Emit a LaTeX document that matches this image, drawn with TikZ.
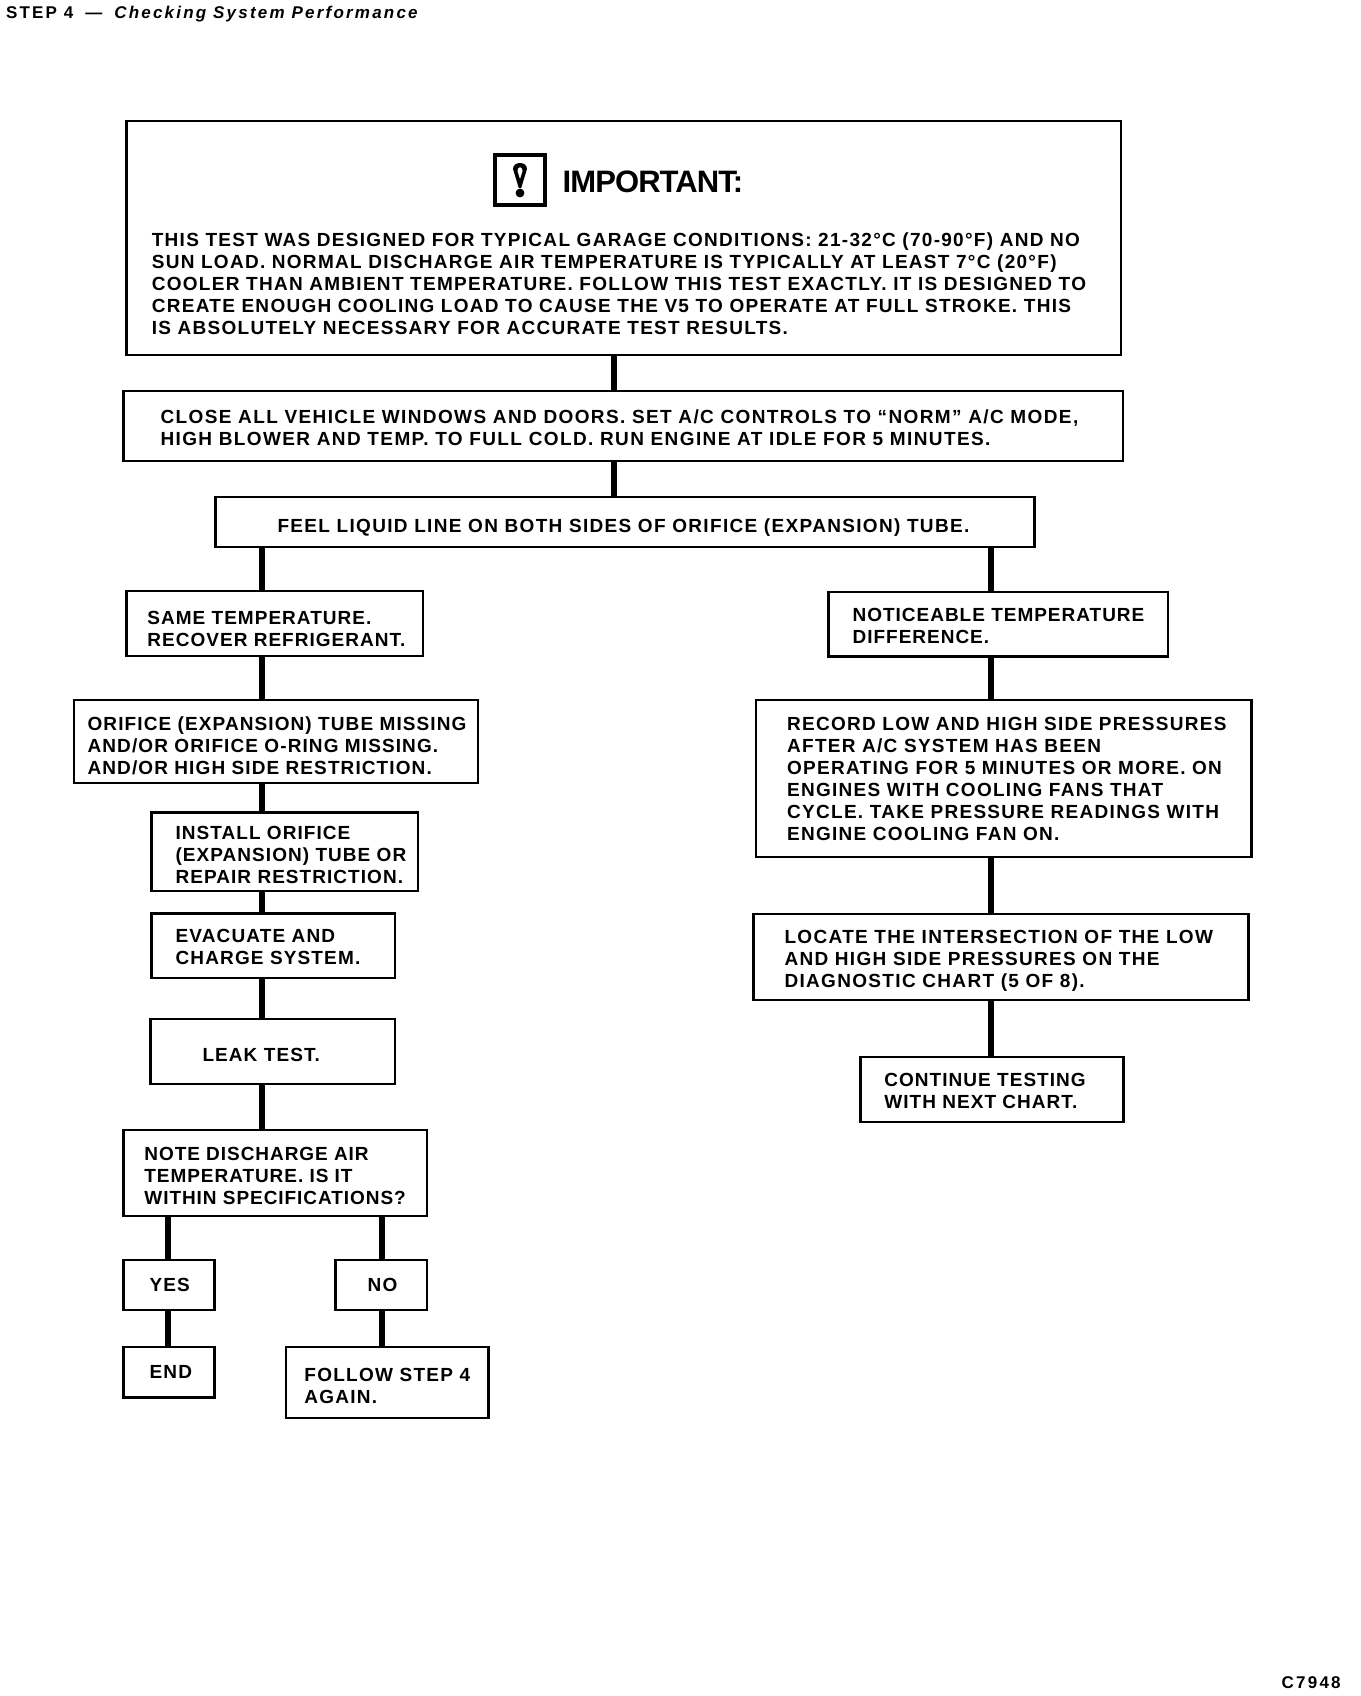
\documentclass[tikz,border=0pt]{standalone}
\usepackage{fontspec}
\setmainfont{Liberation Sans}
\newfontfamily\bodyfont[LetterSpace=6.5]{Liberation Sans Bold}
\newfontfamily\headfont[LetterSpace=-3]{Liberation Sans Bold}
\newfontfamily\stepfont[LetterSpace=13]{Liberation Sans Bold}
\newfontfamily\stepital[LetterSpace=13]{Liberation Sans Bold Italic}
\newcommand{\flowbox}[9]{%
  \pgfmathsetmacro\fbw{#5-#3}%
  \pgfmathsetmacro\fbh{#6-#4}%
  \pgfmathsetmacro\fbx{(#3+#5)/2}%
  \pgfmathsetmacro\fby{(#4+#6)/2}%
  \pgfmathsetmacro\fbtx{#7-\fbx}%
  \pgfmathsetmacro\fbty{\fby-#8}%
  \node[flow, minimum width=\fbw pt, minimum height=\fbh pt] (#2) at (\fbx,\fby)
    {\makebox[0pt][l]{\hspace*{\fbtx pt}\raisebox{\fbty pt}[0pt][0pt]{\addfontfeature{LetterSpace=#1}\begin{tabular}[t]{@{}l@{}}#9\end{tabular}}}};%
}
\tikzset{
  flow/.style={draw=black, line width=2.6pt, fill=white, inner sep=0pt, outer sep=0pt, rectangle,
    font=\fontsize{19}{22}\selectfont\bodyfont},
  conn/.style={draw=black, line width=6pt},
  loose/.style={inner sep=0pt, outer sep=0pt, text=black, anchor=base west},
  stepstyle/.style={loose, font=\fontsize{17}{20}\selectfont\stepfont}
}
\begin{document}
\begin{tikzpicture}[x=1pt,y=-1pt]
\useasboundingbox (0,0) rectangle (1360,1696);
\fill[white] (0,0) rectangle (1360,1696);
% vertical guides for connectors
\coordinate (xc) at (614.4,0);
\coordinate (xl) at (261.5,0);
\coordinate (xr) at (991,0);
\coordinate (xy) at (168.3,0);
\coordinate (xn) at (381.6,0);

\node[stepstyle] (step) at (6,19) {STEP 4\hspace{5pt} —\hspace{5pt} {\stepital Checking System Performance}};
\node[stepstyle] (code) at (1281.7,1688.3) {C7948};

\flowbox{6.8}{imp}{126.7}{121}{1121}{355}{151.8}{246.4}{THIS TEST WAS DESIGNED FOR TYPICAL GARAGE CONDITIONS: 21-32°C (70-90°F) AND NO\\SUN LOAD. NORMAL DISCHARGE AIR TEMPERATURE IS TYPICALLY AT LEAST 7°C (20°F)\\COOLER THAN AMBIENT TEMPERATURE. FOLLOW THIS TEST EXACTLY. IT IS DESIGNED TO\\CREATE ENOUGH COOLING LOAD TO CAUSE THE V5 TO OPERATE AT FULL STROKE. THIS\\IS ABSOLUTELY NECESSARY FOR ACCURATE TEST RESULTS.}
\node[loose, font=\fontsize{31}{31}\selectfont\headfont] (imptitle) at (562.7,192.3) {IMPORTANT:};
\node[draw=black, line width=4pt, minimum width=50pt, minimum height=50pt, inner sep=0pt, outer sep=0pt] (icon) at (520,180) {};
\begin{scope}[shift={(icon.center)}]
\fill[black] (-7,-11) .. controls (-7,-19) and (7,-19) .. (7,-11) -- (1.2,8) -- (-1.2,8) -- cycle;
\fill[white] (-2.5,-9) .. controls (-2.5,-14) and (2.5,-14) .. (2.5,-9) -- (0,-1) -- cycle;
\fill[black] (0,13) circle (4.4pt);
\end{scope}

\flowbox{7.3}{close}{123.7}{391}{1123}{461}{160.5}{423}{CLOSE ALL VEHICLE WINDOWS AND DOORS. SET A/C CONTROLS TO “NORM” A/C MODE,\\HIGH BLOWER AND TEMP. TO FULL COLD. RUN ENGINE AT IDLE FOR 5 MINUTES.}
\flowbox{7}{feel}{215.4}{497}{1034.3}{547}{277.5}{532}{FEEL LIQUID LINE ON BOTH SIDES OF ORIFICE (EXPANSION) TUBE.}
\flowbox{5.4}{same}{126.2}{591}{422.9}{656}{147.4}{624.3}{SAME TEMPERATURE.\\RECOVER REFRIGERANT.}
\flowbox{5.8}{orifice}{73.8}{700}{477.8}{783}{87.6}{730.3}{ORIFICE (EXPANSION) TUBE MISSING\\AND/OR ORIFICE O-RING MISSING.\\AND/OR HIGH SIDE RESTRICTION.}
\flowbox{5.5}{install}{151.6}{812.5}{417.9}{891}{175.6}{839.4}{INSTALL ORIFICE\\(EXPANSION) TUBE OR\\REPAIR RESTRICTION.}
\flowbox{6}{evac}{151.6}{913.5}{395}{978}{175.6}{942}{EVACUATE AND\\CHARGE SYSTEM.}
\flowbox{5.7}{leak}{150.6}{1019}{395}{1084}{202.5}{1061}{LEAK TEST.}
\flowbox{5}{note}{123.2}{1130}{426.9}{1216}{144.4}{1160.4}{NOTE DISCHARGE AIR\\TEMPERATURE. IS IT\\WITHIN SPECIFICATIONS?}
\flowbox{6}{yes}{123.2}{1260}{214.4}{1310}{149.6}{1291.6}{YES}
\flowbox{6}{no}{335.6}{1260}{426.9}{1310}{367.7}{1291.6}{NO}
\flowbox{6}{end}{123.2}{1347}{214.4}{1397.6}{149.6}{1378.6}{END}
\flowbox{6.7}{follow}{285.8}{1347}{488.7}{1418}{304.4}{1381.8}{FOLLOW STEP 4\\AGAIN.}
\flowbox{5.2}{notice}{828.7}{592}{1167.9}{656.5}{852.6}{621}{NOTICEABLE TEMPERATURE\\DIFFERENCE.}
\flowbox{6.8}{record}{755.9}{700}{1251.6}{857}{787.1}{730}{RECORD LOW AND HIGH SIDE PRESSURES\\AFTER A/C SYSTEM HAS BEEN\\OPERATING FOR 5 MINUTES OR MORE. ON\\ENGINES WITH COOLING FANS THAT\\CYCLE. TAKE PRESSURE READINGS WITH\\ENGINE COOLING FAN ON.}
\flowbox{7}{locate}{753.3}{914}{1248.5}{1000}{784.5}{943}{LOCATE THE INTERSECTION OF THE LOW\\AND HIGH SIDE PRESSURES ON THE\\DIAGNOSTIC CHART (5 OF 8).}
\flowbox{5.5}{continue}{860.4}{1057}{1123.6}{1122}{884.3}{1086.5}{CONTINUE TESTING\\WITH NEXT CHART.}

\draw[conn] (imp.south -| xc) -- (close.north -| xc);
\draw[conn] (close.south -| xc) -- (feel.north -| xc);
\draw[conn] (feel.south -| xl) -- (same.north -| xl);
\draw[conn] (same.south -| xl) -- (orifice.north -| xl);
\draw[conn] (orifice.south -| xl) -- (install.north -| xl);
\draw[conn] (install.south -| xl) -- (evac.north -| xl);
\draw[conn] (evac.south -| xl) -- (leak.north -| xl);
\draw[conn] (leak.south -| xl) -- (note.north -| xl);
\draw[conn] (note.south -| xy) -- (yes.north -| xy);
\draw[conn] (note.south -| xn) -- (no.north -| xn);
\draw[conn] (yes.south -| xy) -- (end.north -| xy);
\draw[conn] (no.south -| xn) -- (follow.north -| xn);
\draw[conn] (feel.south -| xr) -- (notice.north -| xr);
\draw[conn] (notice.south -| xr) -- (record.north -| xr);
\draw[conn] (record.south -| xr) -- (locate.north -| xr);
\draw[conn] (locate.south -| xr) -- (continue.north -| xr);
\end{tikzpicture}
\end{document}
